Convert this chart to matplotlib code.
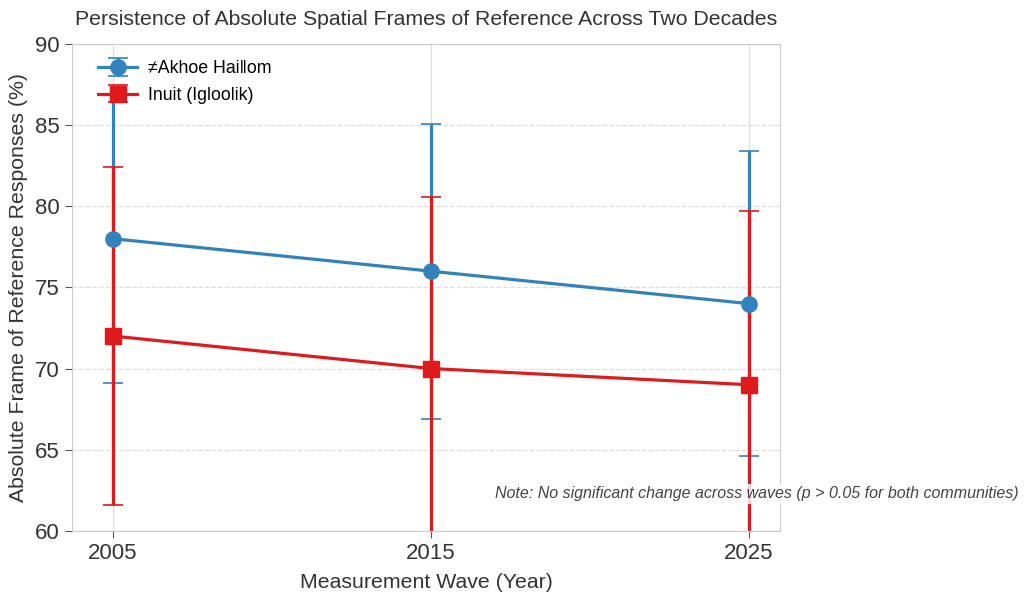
import numpy as np
import matplotlib
matplotlib.use("Agg")
import matplotlib.pyplot as plt

plt.rcParams['font.family'] = ['Liberation Sans', 'DejaVu Sans']

years = [2005, 2015, 2025]
akhoe_mean = [78, 76, 74]
akhoe_err = [8.9, 9.1, 9.4]
inuit_mean = [72, 70, 69]
inuit_err = [10.4, 10.6, 10.7]

blue = '#3182bd'
red = '#de1a1c'

fig, ax = plt.subplots(figsize=(10.24, 5.95), dpi=100)
fig.subplots_adjust(left=0.07, right=0.762, top=0.926, bottom=0.108)

ax.errorbar(years, akhoe_mean, yerr=akhoe_err, color=blue, marker='o', markersize=11,
            linewidth=2.3, capsize=7, capthick=1.2, elinewidth=2.3, label='≠Akhoe Haiǁom', zorder=3)
ax.errorbar(years, inuit_mean, yerr=inuit_err, color=red, marker='s', markersize=11,
            linewidth=2.3, capsize=7, capthick=1.2, elinewidth=2.3, label='Inuit (Igloolik)', zorder=3)

ax.set_xlim(2003.7, 2026.0)
ax.set_ylim(60, 90)
ax.set_xticks(years)
ax.set_yticks(np.arange(60, 91, 5))
ax.tick_params(axis='both', labelsize=16, length=5, color='#555555', labelcolor='#333333')

ax.yaxis.grid(True, linestyle='--', color='#dddddd', linewidth=0.9)
ax.xaxis.grid(True, linestyle='-', color='#dddddd', linewidth=0.9)
ax.set_axisbelow(True)
for s in ax.spines.values():
    s.set_color('#cccccc')

ax.set_title('Persistence of Absolute Spatial Frames of Reference Across Two Decades',
             fontsize=15.3, color='#333333', pad=13.5)
ax.set_xlabel('Measurement Wave (Year)', fontsize=15.3, color='#333333', labelpad=7)
ax.set_ylabel('Absolute Frame of Reference Responses (%)', fontsize=15.3, color='#333333', labelpad=5)

ax.legend(loc='upper left', frameon=False, fontsize=12.8, handlelength=2.2,
          borderaxespad=0.5, labelspacing=0.55, handletextpad=0.6,
          bbox_to_anchor=(0.015, 1.0))

ax.text(0.598, 0.076, 'Note: No significant change across waves (p > 0.05 for both communities)',
        transform=ax.transAxes, fontsize=11.5, style='italic', color='#444444',
        ha='left', va='center', bbox=dict(facecolor='white', edgecolor='none', alpha=0.8, pad=2),
        zorder=5)

fig.savefig('out.png', dpi=100)
